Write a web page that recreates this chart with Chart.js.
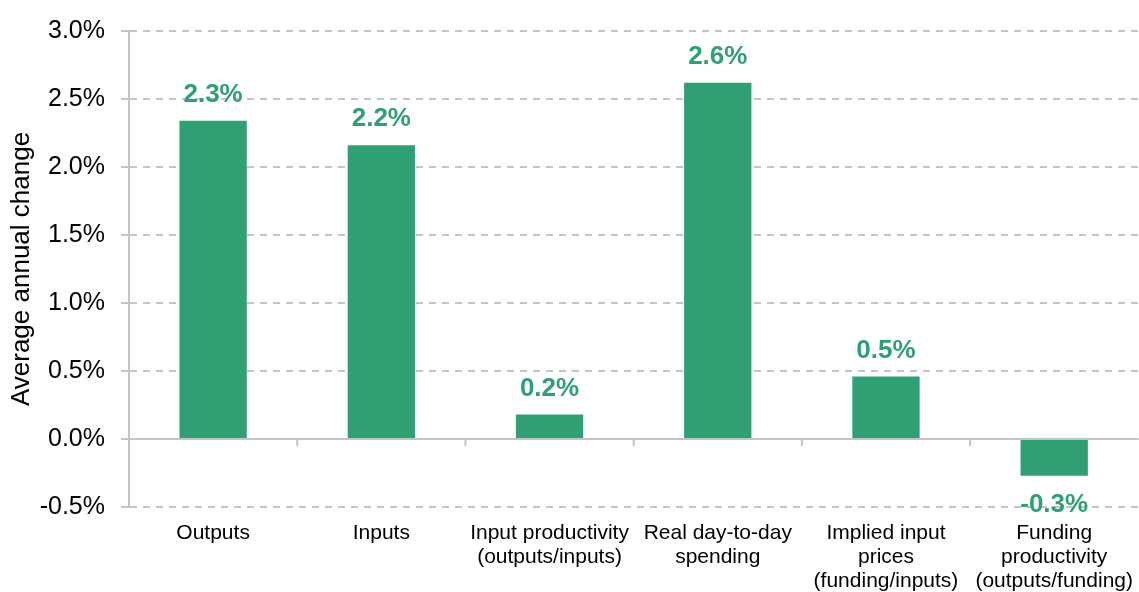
<!DOCTYPE html>
<html>
<head>
<meta charset="utf-8">
<script src="https://cdn.jsdelivr.net/npm/chart.js@4/dist/chart.umd.min.js"></script>
<style>
  html, body { margin: 0; padding: 0; background: #fff; }
  #wrap { width: 1139px; height: 592px; position: relative; }
</style>
</head>
<body>
<div id="wrap"><canvas id="c"></canvas></div>
<script>
const categories = [
  ["Outputs"],
  ["Inputs"],
  ["Input productivity", "(outputs/inputs)"],
  ["Real day-to-day", "spending"],
  ["Implied input", "prices", "(funding/inputs)"],
  ["Funding", "productivity", "(outputs/funding)"]
];
const values = [2.34, 2.16, 0.18, 2.62, 0.46, -0.27];
const valueLabels = ["2.3%", "2.2%", "0.2%", "2.6%", "0.5%", "-0.3%"];
const yTicks = { min: -0.5, max: 3.0, step: 0.5 };

const GREEN = "#2f9f74";
const GRID = "#c4c4c4";
const FONT = "'Liberation Sans', Arial, sans-serif";

const labelPlugin = {
  id: "valueLabels",
  afterDatasetsDraw(chart) {
    const ctx = chart.ctx;
    const meta = chart.getDatasetMeta(0);
    ctx.save();
    ctx.font = "bold 26px " + FONT;
    ctx.fillStyle = GREEN;
    ctx.textAlign = "center";
    ctx.textBaseline = "middle";
    meta.data.forEach((bar, i) => {
      const v = values[i];
      const y = v >= 0 ? bar.y - 26 : bar.y + 29;
      ctx.fillText(valueLabels[i], bar.x, y);
    });
    ctx.restore();
  }
};

const zeroLinePlugin = {
  id: "zeroLine",
  afterDatasetsDraw(chart) {
    const ctx = chart.ctx;
    const x = chart.scales.x, y = chart.scales.y;
    const y0 = y.getPixelForValue(0);
    ctx.save();
    ctx.strokeStyle = GRID;
    ctx.lineWidth = 2;
    ctx.beginPath();
    ctx.moveTo(chart.chartArea.left, y0);
    ctx.lineTo(chart.chartArea.right, y0);
    ctx.stroke();
    const n = categories.length;
    for (let i = 1; i < n; i++) {
      const xb = (x.getPixelForValue(i - 1) + x.getPixelForValue(i)) / 2;
      ctx.beginPath();
      ctx.moveTo(xb, y0);
      ctx.lineTo(xb, y0 + 7);
      ctx.stroke();
    }
    ctx.restore();
  }
};

new Chart(document.getElementById("c"), {
  type: "bar",
  data: {
    labels: categories,
    datasets: [{
      data: values,
      backgroundColor: GREEN,
      borderWidth: 0,
      barPercentage: 0.8,
      categoryPercentage: 0.5
    }]
  },
  options: {
    responsive: true,
    maintainAspectRatio: false,
    animation: false,
    devicePixelRatio: 1,
    layout: { padding: { top: 16, right: 0, left: 0, bottom: 0 } },
    plugins: { legend: { display: false }, tooltip: { enabled: false } },
    scales: {
      x: {
        grid: { display: false },
        border: { display: false },
        ticks: {
          color: "#000",
          font: { family: FONT, size: 21, lineHeight: 1.14 },
          padding: 6,
          maxRotation: 0,
          autoSkip: false
        },
        afterFit(scale) { scale.height = 85; }
      },
      y: {
        min: yTicks.min,
        max: yTicks.max,
        ticks: {
          stepSize: yTicks.step,
          color: "#000",
          font: { family: FONT, size: 25 },
          padding: 16,
          callback: v => v.toFixed(1) + "%"
        },
        grid: {
          color: GRID,
          lineWidth: 2,
          tickLength: 8,
          drawTicks: true
        },
        border: {
          display: true,
          color: GRID,
          width: 2,
          dash: ctx => (ctx.tick && ctx.tick.value === 0) ? [] : [7, 6]
        },
        title: {
          display: true,
          text: "Average annual change",
          color: "#000",
          font: { family: FONT, size: 26, lineHeight: 1.2 },
          padding: { top: 6, bottom: 0 }
        },
        afterFit(scale) { scale.width = 129; }
      }
    }
  },
  plugins: [labelPlugin, zeroLinePlugin]
});
</script>
</body>
</html>
